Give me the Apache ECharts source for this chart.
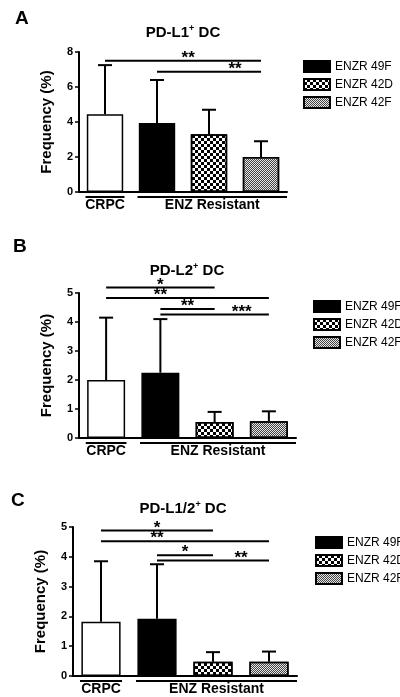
<!DOCTYPE html>
<html><head><meta charset="utf-8">
<script src="https://cdn.jsdelivr.net/npm/echarts@6/dist/echarts.min.js"></script>
<style>html,body{margin:0;padding:0;background:#fff}#c{width:400px;height:697px}</style>
</head><body><div id="c"></div>
<script>
const categories = ['CRPC','ENZR 49F','ENZR 42D','ENZR 42F'];
const panelLetters = ['A','B','C'];
const panelTitles = ['PD-L1','PD-L2','PD-L1/2'];
const yMax = [8,5,5];
const yInterval = [2,1,1];
const meanA = [4.45,3.95,3.3,2.0];
const errA  = [7.25,6.4,4.7,2.9];
const meanB = [2.0,2.25,0.55,0.58];
const errB  = [4.15,4.1,0.9,0.92];
const meanC = [1.82,1.92,0.48,0.48];
const errC  = [3.85,3.75,0.8,0.82];
// significance: [fromCategory, toCategory, yValue, stars, label position (category units)]
const sigA = [[0,3,7.5,'**',1.6],[1,3,6.87,'**',2.5]];
const sigB = [[0,2,5.19,'*',1.0],[0,3,4.83,'**',1.0],[1,2,4.45,'**',1.5],[1,3,4.26,'***',2.5]];
const sigC = [[0,2,4.88,'*',1.0],[0,3,4.52,'**',1.0],[1,2,4.05,'*',1.5],[1,3,3.88,'**',2.5]];
const groupLabels = ['CRPC','ENZ Resistant'];
const groupSpans = [[0,0],[1,3]];

const means=[meanA,meanB,meanC], errs=[errA,errB,errC], sigs=[sigA,sigB,sigC];
const grids=[{left:79,top:52,width:208,height:140},{left:79,top:293,width:217,height:145},{left:73,top:527,width:224,height:149}];
const titlePos=[[178,19],[182,257],[178,495]];
const letterPos=[[10,4],[8,232],[6,486]];
const legendPos=[[298,55],[308,295],[310,531]];
const FONT='Liberation Sans, Arial, sans-serif';
const styles={
 'CRPC':{color:'#fff',borderColor:'#000',borderWidth:1.5},
 'ENZR 49F':{color:'#000',borderColor:'#000',borderWidth:1.5},
 'ENZR 42D':{color:'#fff',borderColor:'#000',borderWidth:1.5,decal:{color:'#000',symbol:'rect',symbolSize:1,dashArrayX:[[3,3],[0,3,3,0]],dashArrayY:[3,0],rotation:0}},
 'ENZR 42F':{color:'#e6e6e6',borderColor:'#000',borderWidth:1.5,decal:{color:'#444',symbol:'rect',symbolSize:1,dashArrayX:[[1,1],[0,1,1,0]],dashArrayY:[1,0],rotation:0}}
};
const option={animation:false,backgroundColor:'#fff',title:[],legend:[],grid:[],xAxis:[],yAxis:[],series:[],textStyle:{fontFamily:FONT}};
for(let p=0;p<3;p++){
 option.grid.push(grids[p]);
 option.title.push({text:'{t|'+panelTitles[p]+'}{s|+}{t| DC}',left:titlePos[p][0],top:titlePos[p][1],textAlign:'center',
   textStyle:{rich:{t:{fontSize:15,fontWeight:'bold',fontFamily:FONT,color:'#000'},s:{fontSize:9,fontWeight:'bold',fontFamily:FONT,color:'#000',verticalAlign:'top',padding:[0,0,9,0]}}}});
 option.title.push({text:panelLetters[p],left:letterPos[p][0],top:letterPos[p][1],textStyle:{fontSize:19,fontWeight:'bold',fontFamily:FONT,color:'#000'}});
 option.legend.push({left:legendPos[p][0],top:legendPos[p][1],orient:'vertical',icon:'rect',itemWidth:26,itemHeight:11,itemGap:5,selectedMode:false,
   data:categories.slice(1),textStyle:{fontSize:12,fontFamily:FONT,color:'#000'}});
 option.xAxis.push({type:'category',gridIndex:p,data:categories,axisLine:{lineStyle:{color:'#000',width:2}},axisTick:{show:false},axisLabel:{show:false}});
 option.yAxis.push({type:'value',gridIndex:p,min:0,max:yMax[p],interval:yInterval[p],splitLine:{show:false},
   axisLine:{show:true,lineStyle:{color:'#000',width:2}},axisTick:{show:true,length:4,lineStyle:{color:'#000',width:1.5}},
   axisLabel:{fontSize:11,fontWeight:'bold',color:'#000',fontFamily:FONT,margin:6},
   name:'Frequency (%)',nameLocation:'middle',nameGap:25,nameTextStyle:{fontSize:15,fontWeight:'bold',color:'#000',fontFamily:FONT}});
 categories.forEach((c,i)=>{
   option.series.push({type:'bar',name:c,xAxisIndex:p,yAxisIndex:p,stack:'s'+p,barWidth:'70%',itemStyle:styles[c],
     data:categories.map((_,j)=>j===i?means[p][j]:'-')});
 });
 option.series.push({type:'custom',xAxisIndex:p,yAxisIndex:p,z:1,clip:false,
   data:categories.map((_,j)=>[j,means[p][j],errs[p][j]]),
   renderItem:(params,api)=>{const b=api.coord([api.value(0),api.value(1)]),t=api.coord([api.value(0),api.value(2)]);
     const st={stroke:'#000',lineWidth:2};
     return {type:'group',children:[{type:'line',shape:{x1:b[0],y1:b[1],x2:t[0],y2:t[1]},style:st},
       {type:'line',shape:{x1:t[0]-7,y1:t[1],x2:t[0]+7,y2:t[1]},style:st}]};}});
 option.series.push({type:'custom',xAxisIndex:p,yAxisIndex:p,clip:false,
   data:sigs[p].map(s=>[s[0],s[2],s[1]]),
   renderItem:((pp)=>(params,api)=>{const s=sigs[pp][params.dataIndex];
     const a=api.coord([s[0],s[2]]),b=api.coord([s[1],s[2]]);
     const c0=api.coord([0,0])[0],band=api.size([1,0])[0];
     return {type:'group',children:[{type:'line',shape:{x1:a[0],y1:a[1],x2:b[0],y2:b[1]},style:{stroke:'#000',lineWidth:2}},
       {type:'text',style:{text:s[3],x:c0+band*s[4],y:a[1]+6,align:'center',verticalAlign:'bottom',fontSize:17,fontWeight:'bold',fill:'#000',fontFamily:FONT}}]};})(p)});
 option.series.push({type:'custom',xAxisIndex:p,yAxisIndex:p,clip:false,
   data:groupSpans.map(g=>[g[0],0,g[1]]),
   renderItem:(params,api)=>{const g=groupSpans[params.dataIndex];const hw=api.size([1,0])[0]/2;
     const a=api.coord([g[0],0]),b=api.coord([g[1],0]);const x1=a[0]-hw*0.75,x2=b[0]+hw*(g[1]===categories.length-1?1:0.75);
     return {type:'group',children:[{type:'line',shape:{x1:x1,y1:a[1]+5,x2:x2,y2:a[1]+5},style:{stroke:'#000',lineWidth:2}},
       {type:'text',style:{text:groupLabels[params.dataIndex],x:(x1+x2)/2,y:a[1]+6,align:'center',verticalAlign:'top',fontSize:14,fontWeight:'bold',fill:'#000',fontFamily:FONT}}]};}});
}
echarts.init(document.getElementById('c'),null,{renderer:'canvas'}).setOption(option);
</script></body></html>
